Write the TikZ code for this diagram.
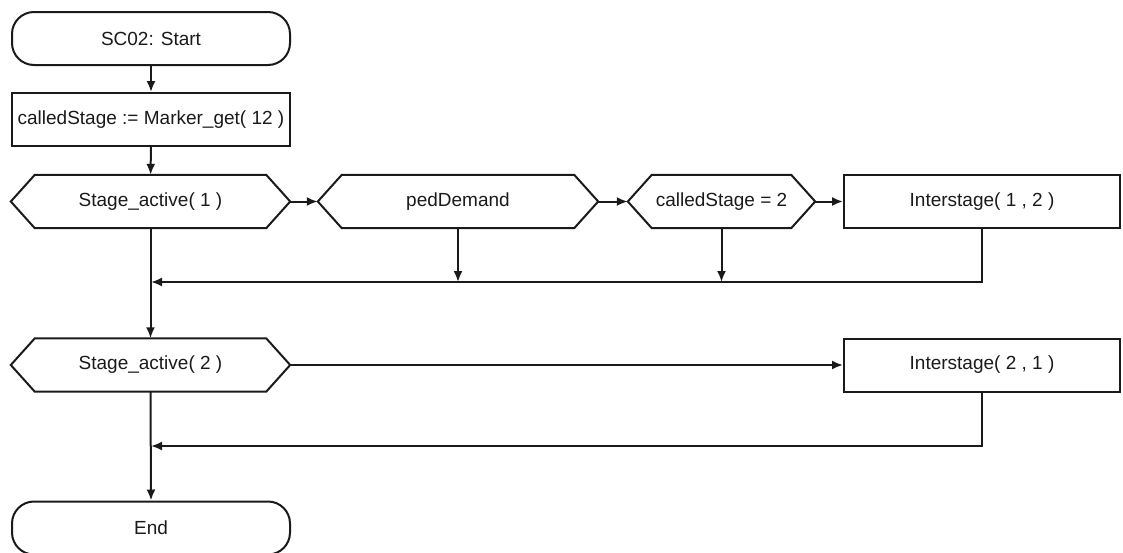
\documentclass[tikz,border=0pt]{standalone}
\usepackage{fontspec}
\setmainfont{Liberation Sans}
\usetikzlibrary{arrows.meta}
\definecolor{ink}{HTML}{1A1A1A}
\tikzset{
  line/.style={draw=ink, line width=2pt},
  flow/.style={line, -{Latex[length=11pt,width=9pt]}},
  base/.style={font=\fontsize{19}{22}\selectfont, text=ink, inner sep=0pt, minimum height=53pt},
  terminal/.style={base, line, rounded corners=22pt, minimum width=278pt},
  process/.style={base, line, minimum width=#1},
  decision/.style={base, minimum width=#1},
}
\begin{document}
\begin{tikzpicture}[x=1pt, y=-1pt]
\useasboundingbox (0,0) rectangle (1123,552);

% main column
\node[terminal] (start) at (151,38.5) {SC02: Start};
\node[process=278pt] (calc) at (151,119.5) {calledStage := Marker\_get( 12 )};
\node[decision=279pt] (sa1) at (150.5,201.5) {Stage\_active( 1 )};
\node[decision=280pt] (ped) at (458,201.5) {pedDemand};
\node[decision=187pt] (cs) at (721.5,201.5) {calledStage = 2};
\node[process=276pt] (is12) at (982,201.5) {Interstage( 1 , 2 )};
\node[decision=279pt] (sa2) at (150.5,365) {Stage\_active( 2 )};
\node[process=276pt] (is21) at (982,365) {Interstage( 2 , 1 )};
\node[terminal] (end) at (151,528) {End};

% hexagonal outlines of the decision boxes
\foreach \n in {sa1,ped,cs,sa2}
  \draw[line, line join=miter] ([xshift=24pt]\n.north west) -- ([xshift=-24pt]\n.north east)
    -- (\n.east) -- ([xshift=-24pt]\n.south east) -- ([xshift=24pt]\n.south west)
    -- (\n.west) -- cycle;

% junction points on the main column
\coordinate (m1) at (151,282);
\coordinate (m2) at (151,446);

\draw[flow] (start) -- (calc);
\draw[flow] (calc) -- (sa1);
\draw[flow] (sa1.east) -- (ped.west);
\draw[flow] (ped.east) -- (cs.west);
\draw[flow] (cs.east) -- (is12.west);
\draw[flow] (ped.south) -- (ped.south |- m1);
\draw[flow] (cs.south) -- (cs.south |- m1);
\draw[flow] (is12.south) -- (is12.south |- m1) -- (m1);
\draw[flow] (sa1.south) -- (sa2.north);
\draw[flow] (sa2.east) -- (is21.west);
\draw[flow] (is21.south) -- (is21.south |- m2) -- (m2);
\draw[flow] (sa2.south) -- (end.north);
\end{tikzpicture}
\end{document}
